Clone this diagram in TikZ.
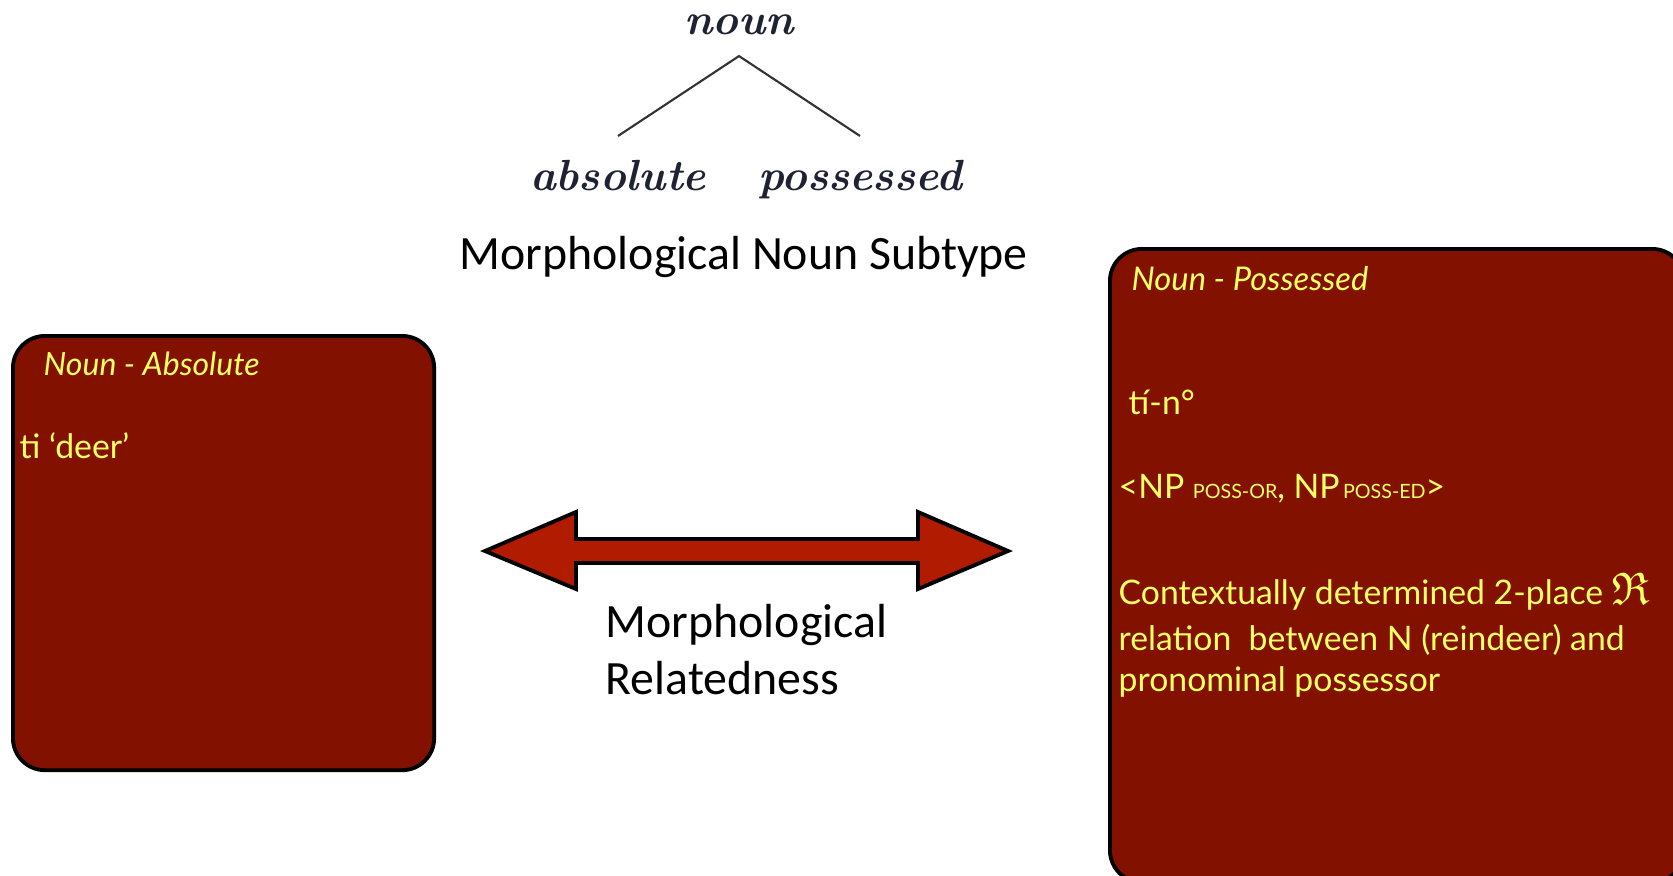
\documentclass[tikz,border=0pt]{standalone}
\usepackage{amssymb}
\usepackage{fontspec}
\usetikzlibrary{positioning}
\newfontfamily\calfont{Carlito}
\newfontfamily\gillfont{Lato}
\definecolor{boxred}{HTML}{831100}
\definecolor{arrowred}{HTML}{B11B00}
\definecolor{boxtext}{HTML}{FFFF66}
\definecolor{treeink}{HTML}{1E2233}
\begin{document}
\begin{tikzpicture}[x=0.01cm,y=-0.01cm,
	treelab/.style={inner sep=0pt,anchor=base,text=treeink,font=\fontsize{12.4}{14}\selectfont\bfseries\itshape},
	treeline/.style={draw=black!80,line width=0.6pt},
	caption/.style={inner sep=0pt,anchor=base west,font=\calfont\fontsize{13.6}{16.2}\selectfont},
	panel/.style={draw=black,line width=1.1pt,fill=boxred,rounded corners=0.32cm,anchor=north west,inner sep=0pt},
	paneltext/.style={inner sep=0pt,anchor=base west,text=boxtext,font=\gillfont\fontsize{9.6}{12.5}\selectfont},
	twoway/.style={draw=black,line width=1.1pt,fill=arrowred,line join=miter}]
	\useasboundingbox (0,0) rectangle (1673,876);
	% tree
	\node[treelab] (noun) at (739,35) {noun};
	\node[treelab] (abs) at (618,190) {absolute};
	\node[treelab] (poss) at (860,190) {possessed};
	\draw[treeline] ([yshift=0.23cm]abs.north) -- ([yshift=-0.2cm]noun.south) -- ([yshift=0.23cm]poss.north);
	\node[caption] (subtype) at (459,269) {Morphological Noun Subtype};
	% left panel
	\node[panel,minimum width=4.21cm,minimum height=4.34cm] (abspanel) at (11,334) {};
	\node[paneltext,font=\gillfont\itshape\fontsize{9.1}{12.5}\selectfont] (abshead) at (43,375) {Noun - Absolute};
	\node[paneltext] (absform) at (19,458) {ti ‘deer’};
	% right panel
	\node[panel,minimum width=5.74cm,minimum height=6.33cm] (posspanel) at (1108,247) {};
	\node[paneltext,font=\gillfont\itshape\fontsize{9.3}{12.5}\selectfont] (posshead) at (1131,290) {Noun - Possessed};
	\node[paneltext] (possform) at (1128,414) {tí-n°};
	\node[paneltext] (posstype) at (1118,498) {<NP {\fontsize{5.6}{6}\selectfont POSS-OR}, NP{\fontsize{5.6}{6}\selectfont\,POSS-ED}>};
	\node[paneltext] (rel1) at (1118,604) {Contextually determined 2-place {\fontsize{13}{13}\selectfont$\mathfrak{R}$}};
	\node[paneltext] (rel2) at ([yshift=-0.46cm]rel1.base west) {relation\ \ between N (reindeer) and};
	\node[paneltext] (rel3) at ([yshift=-0.41cm]rel2.base west) {pronominal possessor};
	% arrow
	\draw[twoway] (485,551) -- (576,512) -- (576,539) -- (918,539) -- (918,512) -- (1008,551)
		-- (918,589) -- (918,563) -- (576,563) -- (576,589) -- cycle;
	\node[caption] (relword1) at (605,637) {Morphological};
	\node[caption] (relword2) at ([yshift=-0.57cm]relword1.base west) {Relatedness};
\end{tikzpicture}
\end{document}
